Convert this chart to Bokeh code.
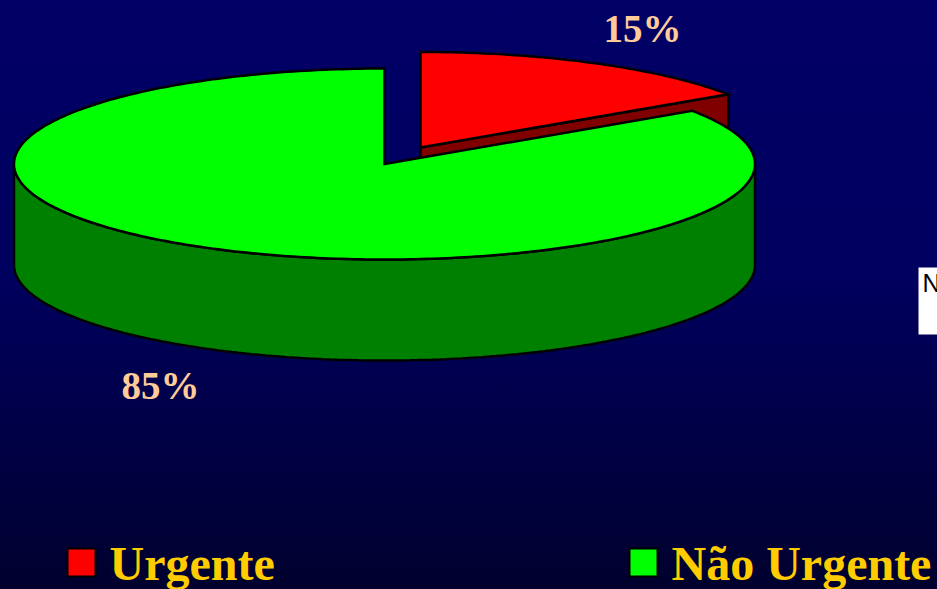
import numpy as np
from bokeh.plotting import figure
from bokeh.embed import file_html
from bokeh.resources import INLINE
from bokeh.models import Range1d
from bokeh.core.properties import value

# Data
categories = ["Urgente", "Não Urgente"]
slice_shares = [15.6, 84.4]          # share as drawn (swept angle of the slices)
slice_labels = ["15%", "85%"]
top_colors = ["#FF0000", "#00FF00"]
wall_colors = ["#800000", "#008000"]

# Layout (page pixels)
W, H = 937, 589
CX, CY, RX, RY, DEPTH = 384.0, 163.5, 370.5, 95.5, 101.0
EXPLODE = (36.0, -16.5)
LABEL_POS = [(603, 28), (121, 385)]
LEGEND_POS = [(66, 109), (628, 671)]

p = figure(width=W, height=H, output_backend="svg", toolbar_location=None,
           x_range=Range1d(0, W), y_range=Range1d(H, 0),
           min_border=0, outline_line_color=None)
p.axis.visible = False
p.grid.visible = False
p.background_fill_alpha = 0
p.border_fill_alpha = 0
p.styles = {"background": "linear-gradient(180deg, #000066 0%, #000060 45%, #00002E 100%)"}

def pt(t, ox=0.0, oy=0.0):
    t = np.radians(t)
    return ox + CX + RX * np.sin(t), oy + CY - RY * np.cos(t)

sweep = slice_shares[0] / sum(slice_shares) * 360.0
LW = 2.5

# Red slice: cut wall, then top
ox, oy = EXPLODE
ex, ey = pt(sweep, ox, oy)
ax, ay = CX + ox, CY + oy
p.patch([ax, ex, ex, ax], [ay, ey, ey + DEPTH, ay + DEPTH],
        fill_color=wall_colors[0], line_color="black", line_width=LW)
t = np.linspace(0, sweep, 80)
rx_, ry_ = pt(t, ox, oy)
p.patch(np.r_[ax, rx_], np.r_[ay, ry_], fill_color=top_colors[0],
        line_color="black", line_width=LW, line_join="miter")

# Green slice: outer wall, then top
t = np.linspace(90, 270, 160)
wx, wy = pt(t)
p.patch(np.r_[wx, wx[::-1]], np.r_[wy, wy[::-1] + DEPTH],
        fill_color=wall_colors[1], line_color="black", line_width=LW)
t = np.linspace(sweep, 360, 320)
gx, gy = pt(t)
p.patch(np.r_[CX, gx], np.r_[CY, gy], fill_color=top_colors[1],
        line_color="black", line_width=LW, line_join="miter")

# Percent labels
p.text([q[0] for q in LABEL_POS], [q[1] for q in LABEL_POS], text=slice_labels,
       text_font=value("Liberation Serif"), text_font_style="bold",
       text_font_size="39px", text_color="#FFCC99", text_baseline="middle")

# Legend
for (bx, tx), name, c in zip(LEGEND_POS, categories, top_colors):
    p.quad(left=[bx + 1], right=[bx + 29], top=[548], bottom=[576],
           fill_color=c, line_color="black", line_width=2)
    p.text([tx], [563], text=[name], text_font=value("Liberation Serif"),
           text_font_style="bold", text_font_size="48px",
           text_color="#FFCC00", text_baseline="middle")

# Stray white box with clipped text at the right edge
p.quad(left=[918], right=[W + 5], top=[267], bottom=[334],
       fill_color="white", line_color=None)
p.text([922], [282], text=["N"], text_font=value("Liberation Sans"),
       text_font_size="25px", text_color="black", text_baseline="middle")

open("out.html", "w", encoding="utf-8").write(file_html(p, INLINE))
